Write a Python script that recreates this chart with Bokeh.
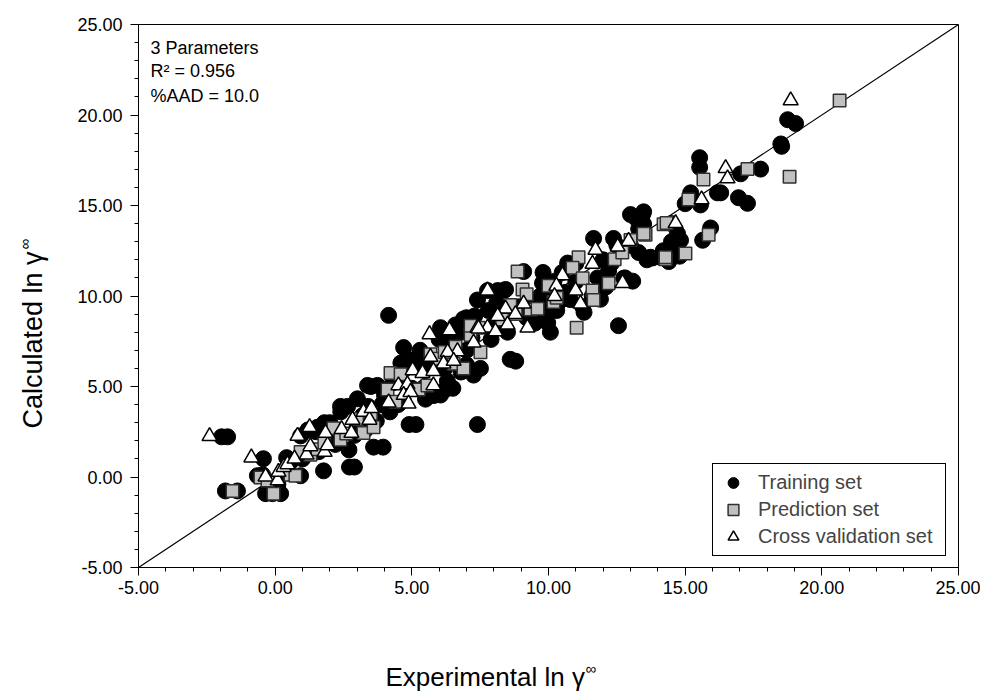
from bokeh.plotting import figure
from bokeh.models import (Range1d, SingleIntervalTicker, NumeralTickFormatter,
                          Label, Legend, LegendItem, Title)
from bokeh.embed import file_html
from bokeh.resources import INLINE

# ---------------- data ----------------
train_x = [-1.96, -1.74, -0.43, -1.82, -1.38, -0.35, 0.20, -0.10, -0.65, -0.46, 0.93, 0.42,
           0.93, 1.55, 1.77, 2.72, 2.90, 3.60, 3.95, 2.46, 2.65, 3.01, 3.38, 3.74,
           4.15, 4.70, 7.40, 7.77, 8.14, 8.36, 6.89, 6.05, 5.32, 4.95, 4.77, 7.51, 7.26,
           6.23, 6.05, 2.39,
           9.09, 13.00, 13.44, 13.48, 13.30, 13.73, 14.10, 11.65, 12.38, 10.70, 12.75, 13.08,
           9.78, 11.90, 11.25, 8.43, 9.97, 9.97, 10.07, 12.56,
           18.75, 19.04, 18.53, 17.03, 17.76, 15.53, 15.53, 16.18, 16.95, 17.28, 15.20, 15.56,
           13.48, 15.93, 15.64, 14.72, 14.83, 14.58,
           4.90, 5.15, 7.40, 8.60, 8.80, 5.20, 5.00, 5.50, 6.40, 6.80, 7.00, 7.00, 7.80, 8.00,
           8.10, 9.30, 9.50, 9.70, 10.20, 10.50, 11.00, 11.00, 10.40, 12.20, 12.00, 12.80,
           13.30, 14.50, 14.80, 14.40, 9.80, 6.20, 3.50, 2.00, 1.20, 4.50, 5.80, 3.00, 2.70,
           0.50, 0.10, 5.30, 6.00, 6.60, 7.30, 1.00, 1.50, 2.20, 3.40, 11.30, 11.60, 12.10,
           13.20, 13.60, 13.80, 14.20, 14.50, 15.00, 16.30, 18.50,
           4.00, 4.30, 4.60, 5.50, 6.30, 6.80, 7.00, 6.50, 9.20, 9.60, 10.30, 10.60, 10.80,
           9.90, 12.50, 13.00, 12.30, 11.80, 8.90, 8.50, 7.90, 7.20, 5.70, 3.20, 2.30, 1.60,
           0.60, 3.90,
           2.90, 3.30, 3.70, 4.20, 4.50, 1.80, 2.40]
train_y = [2.22, 2.22, 1.01, -0.77, -0.77, -0.92, -0.92, -0.92, 0.07, 0.12, 0.07, 1.07,
           2.27, 2.75, 0.34, 0.55, 0.55, 1.65, 1.65, 3.80, 3.90, 4.32, 5.06, 5.06,
           8.93, 7.15, 9.78, 10.30, 10.30, 10.30, 8.73, 8.25, 6.78, 6.47, 6.00, 6.00, 5.63,
           4.84, 4.53, 3.90,
           11.35, 14.50, 14.50, 13.97, 13.71, 12.14, 12.14, 13.18, 13.18, 11.82, 10.98, 10.82,
           10.71, 9.82, 9.41, 10.36, 9.25, 8.52, 8.00, 8.36,
           19.74, 19.53, 18.27, 16.75, 17.01, 17.64, 17.11, 15.70, 15.43, 15.12, 15.70, 15.03,
           14.65, 13.76, 13.08, 13.44, 13.08, 12.39,
           2.90, 2.90, 2.90, 6.50, 6.40, 6.30, 4.90, 5.00, 7.50, 8.00, 8.80, 7.00, 9.20, 8.40,
           9.60, 9.50, 8.50, 10.00, 10.80, 11.30, 11.80, 10.80, 9.70, 11.40, 12.00, 11.00,
           12.40, 13.00, 12.20, 11.90, 11.30, 6.00, 5.00, 3.00, 2.60, 5.60, 4.50, 2.80, 1.50,
           0.20, -0.40, 7.00, 7.60, 8.40, 8.90, 1.00, 2.50, 1.80, 3.90, 9.10, 10.00, 10.50,
           14.30, 12.00, 12.10, 12.50, 14.00, 15.10, 15.70, 18.40,
           4.50, 5.20, 6.30, 4.30, 5.30, 5.80, 6.20, 4.90, 8.80, 9.00, 9.20, 10.20, 9.80,
           10.40, 12.80, 12.80, 11.80, 11.00, 9.40, 8.00, 7.60, 7.70, 6.20, 3.40, 2.40, 1.40,
           0.90, 4.00,
           2.30, 2.60, 3.10, 3.60, 4.00, 3.00, 3.60]

pred_x = [-1.56, -0.06, -0.54, -0.28, 0.56, 0.74, 0.93, 1.29, 1.55, 2.13, 2.39, 3.23, 3.60,
          7.44, 7.15, 5.68, 5.98, 6.53, 7.51, 6.89, 4.22, 4.59, 4.11, 5.25, 5.57, 4.40,
          8.87, 13.55, 14.21, 14.28, 12.42, 11.10, 10.88, 11.25, 12.20, 10.00, 10.18, 11.61,
          11.65, 9.05, 9.34, 7.15, 11.03,
          18.82, 17.28, 15.67, 15.12, 14.32, 15.86, 13.48, 14.28, 15.01, 20.65,
          1.80, 2.60, 3.00, 3.50, 6.20, 6.60, 8.30, 8.80, 9.60, 10.30, 12.70, 13.00, 9.20, 8.60]
pred_y = [-0.77, -0.92, -0.03, -0.19, 0.12, 0.07, 1.38, 1.23, 1.54, 2.70, 2.06, 2.43, 2.75,
          8.25, 7.84, 6.78, 6.53, 6.26, 6.89, 6.00, 5.74, 5.68, 4.84, 4.84, 5.06, 4.16,
          11.35, 13.39, 13.97, 12.03, 12.03, 12.14, 11.56, 10.98, 10.71, 10.56, 9.67, 10.30,
          9.78, 10.36, 9.25, 8.36, 8.25,
          16.59, 17.01, 16.43, 15.33, 14.03, 13.39, 13.44, 12.14, 12.35, 20.80,
          1.90, 2.40, 3.20, 3.50, 6.90, 7.20, 8.70, 9.00, 9.30, 9.90, 12.40, 13.10, 10.10, 9.50]

cv_x = [-2.40, -0.87, -0.35, 0.09, 0.12, 0.31, 0.45, 0.71, 1.15, 1.29, 0.82, 1.26, 1.81, 1.92,
        1.84, 2.43, 2.79, 2.83, 3.23, 3.45, 3.53,
        7.77, 8.39, 5.65, 6.38, 7.40, 7.77, 8.06, 7.26, 6.67, 6.31, 5.68, 6.16, 6.53, 5.03,
        5.39, 5.79, 4.51, 4.84, 5.79, 4.70, 4.95, 4.15, 4.88,
        12.93, 11.72, 12.53, 11.61, 12.71, 10.51, 10.29, 10.22, 10.99, 11.17, 8.43, 9.09,
        8.79, 8.14, 7.44, 8.50, 9.23,
        16.48, 16.55, 15.60, 14.65, 18.86]
cv_y = [2.25, 1.07, 0.02, -0.19, 0.28, 0.55, 0.70, 1.01, 1.23, 1.69, 2.27, 2.75, 1.38, 1.75,
        2.43, 2.64, 2.43, 3.16, 3.59, 3.16, 3.80,
        10.30, 9.30, 7.88, 8.10, 8.25, 8.25, 8.04, 7.42, 6.94, 6.89, 6.63, 6.26, 6.41, 5.89,
        5.74, 5.85, 5.06, 5.11, 5.06, 4.53, 4.69, 4.11, 4.05,
        13.03, 12.55, 12.72, 11.77, 10.71, 11.14, 10.56, 9.99, 10.30, 9.57, 9.30, 9.57,
        8.99, 8.89, 8.20, 8.41, 8.25,
        17.06, 16.49, 15.33, 14.02, 20.80]

diag = [-5, 25]
axis_range = (-5, 25)
tick_step = 5

annotations = ["3 Parameters", "R\u00b2 = 0.956", "%AAD = 10.0"]
legend_labels = ["Training set", "Prediction set", "Cross validation set"]
x_title = "Experimental ln \u03b3"
y_title = "Calculated ln \u03b3"
sup = "\u221e"

FONT = "Liberation Sans"

p = figure(width=980, height=696, x_range=Range1d(*axis_range), y_range=Range1d(*axis_range),
           output_backend="svg", toolbar_location=None,
           min_border_left=138, min_border_right=22, min_border_top=24, min_border_bottom=129)
p.xgrid.visible = False
p.ygrid.visible = False
p.outline_line_color = "black"
p.outline_line_width = 1
p.outline_line_alpha = 1.0
p.background_fill_color = "white"
p.border_fill_color = "white"

for ax in (p.xaxis[0], p.yaxis[0]):
    ax.ticker = SingleIntervalTicker(interval=tick_step, num_minor_ticks=5)
    ax.formatter = NumeralTickFormatter(format="0.00")
    ax.major_tick_in = 0
    ax.major_tick_out = 8
    ax.minor_tick_in = 0
    ax.minor_tick_out = 4
    ax.axis_line_color = "black"
    ax.major_tick_line_color = "black"
    ax.minor_tick_line_color = "black"
    ax.major_label_text_font = FONT
    ax.major_label_text_font_size = "18px"
    ax.major_label_text_color = "black"
    ax.axis_label = " "
    ax.axis_label_text_font_size = "1px"
p.xaxis.major_label_standoff = 5
p.yaxis.major_label_standoff = 8
p.xaxis.axis_label_standoff = 66
p.yaxis.axis_label_standoff = 31

p.line(diag, diag, line_color="black", line_width=1.2)

r1 = p.scatter(train_x, train_y, marker="circle", size=16,
               fill_color="black", line_color="black")
r2 = p.scatter(pred_x, pred_y, marker="square", size=12.5,
               fill_color="#c0c0c0", line_color="#303030", line_width=1.5)
r3 = p.scatter(cv_x, cv_y, marker="triangle", size=15,
               fill_color="white", line_color="black", line_width=1.5)

legend = Legend(items=[LegendItem(label=legend_labels[0], renderers=[r1]),
                       LegendItem(label=legend_labels[1], renderers=[r2]),
                       LegendItem(label=legend_labels[2], renderers=[r3])],
                location=(574, 11), margin=0, padding=5, spacing=0,
                glyph_width=30, glyph_height=27, label_height=27, label_standoff=10,
                label_width=182, border_line_color="black", border_line_width=1,
                border_line_alpha=1.0, background_fill_color="white", background_fill_alpha=1.0,
                label_text_font=FONT, label_text_font_size="20px")
p.add_layout(legend)

for txt, yy in zip(annotations, [520, 497, 472]):
    p.add_layout(Label(x=12, y=yy, x_units="screen", y_units="screen", text=txt,
                       text_font=FONT, text_font_size="18px", text_baseline="middle",
                       text_align="left", text_color="black"))

# axis titles (main text + raised infinity), stacked in the side panels
p.add_layout(Title(text=sup, align="left", offset=247 + 200, standoff=-17,
                   text_font=FONT, text_font_size="15px", text_font_style="normal",
                   vertical_align="bottom", text_color="black"), "below")
p.add_layout(Title(text=x_title, align="left", offset=247, standoff=-17,
                   text_font=FONT, text_font_size="26px", text_font_style="normal",
                   vertical_align="bottom", text_color="black"), "below")
p.add_layout(Title(text=y_title, align="left", offset=139, standoff=-17,
                   text_font=FONT, text_font_size="27px", text_font_style="normal",
                   vertical_align="bottom", text_color="black"), "left")
p.add_layout(Title(text=sup, align="left", offset=139 + 179, standoff=-17,
                   text_font=FONT, text_font_size="15px", text_font_style="normal",
                   vertical_align="bottom", text_color="black"), "left")

open("out.html", "w").write(file_html(p, INLINE))
